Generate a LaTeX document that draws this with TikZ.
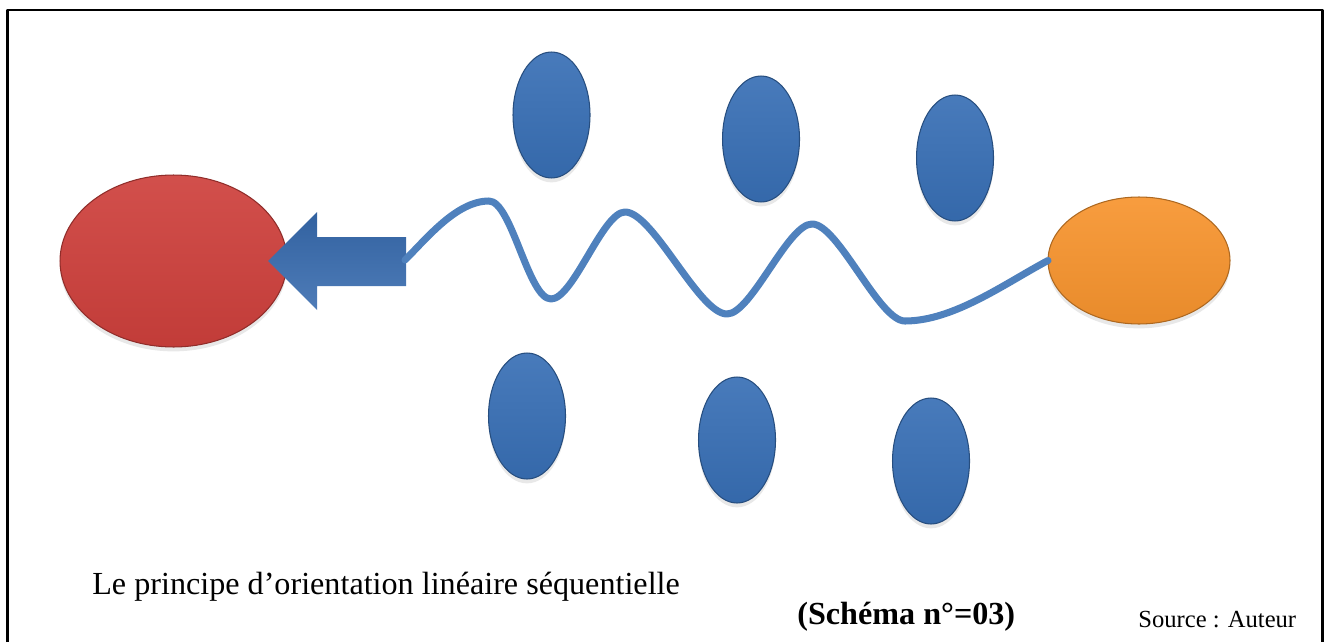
\documentclass[tikz,border=0pt]{standalone}
\usepackage{fontspec}
\setmainfont{Liberation Serif}
\usetikzlibrary{shapes.geometric,shadows}

% Colors
\definecolor{wireblue}{RGB}{79,129,189}
\definecolor{blobblue}{RGB}{56,111,181}
\definecolor{arrowblue}{RGB}{54,106,174}
\definecolor{goalred}{RGB}{206,64,60}
\definecolor{startorange}{RGB}{247,148,46}

\tikzset{
  blob/.style={ellipse, inner sep=0pt, outer sep=0pt, line width=0.6pt,
    draw=#1!70!black, top color=#1!92!white, bottom color=#1!94!black,
    drop shadow={opacity=0.18, shadow xshift=0pt, shadow yshift=-2.5pt}},
  wire/.style={wireblue, line width=4pt, line cap=round},
  label/.style={anchor=base west, inner sep=0pt}
}

\begin{document}
\begin{tikzpicture}[x=0.02cm, y=-0.02cm, line cap=round, line join=round]
\useasboundingbox (0,0) rectangle (1324,642);

% Frame (open at the bottom)
\draw[line width=1.2pt, line cap=butt] (7.5,642) -- (7.5,10) -- (1322.5,10) -- (1322.5,642);

% Goal and starting point
\node[blob=goalred, minimum width=4.54cm, minimum height=3.44cm] (goal) at (173.5,261) {};
\node[blob=startorange, minimum width=3.64cm, minimum height=2.54cm] (start) at (1139,260.5) {};

% Scattered elements
\foreach \name/\x/\y in {up1/551.5/115, up2/761/139, up3/955/158, dn1/527/416, dn2/737/440, dn3/931/461}
  \node[blob=blobblue, minimum width=1.54cm, minimum height=2.52cm] (\name) at (\x,\y) {};

% Arrow into the goal
\shade[top color=arrowblue!92!black, bottom color=arrowblue!88!white]
  (406,237) -- (317,237) -- (317,212) -- (268,261) -- (317,310) -- (317,286) -- (406,286) -- cycle;
\coordinate (tail) at (405,260);

% Winding path
\draw[wire] (tail) to[out=45,in=180,looseness=0.8] (489,201)
  to[out=0,in=180,looseness=0.5] (551,299)
  to[out=0,in=180,looseness=0.5] (625,212) to[out=0,in=180,looseness=0.5] (727,314)
  to[out=0,in=180,looseness=0.5] (812,224) to[out=0,in=180,looseness=0.5] (905,321)
  to[out=0,in=208,looseness=0.8] (start.west);

% Captions
\node[label, font=\fontsize{18.3}{22}\selectfont] (caption) at (92,594) {Le principe d’orientation linéaire séquentielle};
\node[label, font=\bfseries\fontsize{18.3}{22}\selectfont] (schema) at (797,624) {(Schéma n°=03)};
\node[label, font=\fontsize{14}{17}\selectfont] (source) at (1138,627) {Source : Auteur};
\end{tikzpicture}
\end{document}
